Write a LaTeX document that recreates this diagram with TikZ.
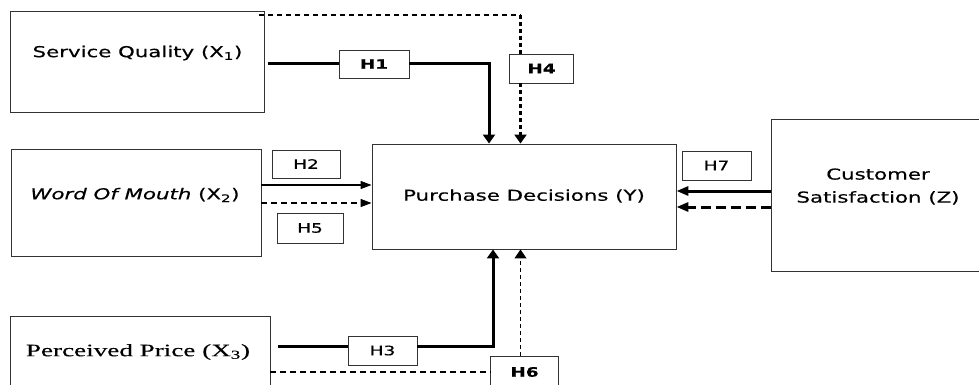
\documentclass[tikz,border=0pt]{standalone}
\usepackage{fontspec}
\usepackage{graphicx}
\usetikzlibrary{arrows.meta}
\setmainfont{DejaVu Sans}[FakeBold=0.35]
\newfontfamily\serifface{Liberation Serif}[FakeBold=0.15]
% wide lettering used in every box
\newcommand{\wsans}[1]{\scalebox{1.42}[1]{#1}}
\newcommand{\wserif}[1]{\scalebox{1.55}[1]{\serifface #1}}
\tikzset{
  varbox/.style={draw=black!80, line width=0.9pt, inner sep=0pt, fill=white},
  hbox/.style={draw=black!80, line width=0.9pt, inner sep=0pt, fill=white,
    font=\fontsize{13}{15}\selectfont},
  boxtext/.style={inner sep=0pt, font=\fontsize{15}{23}\selectfont, text=black},
  thickpath/.style={line width=3pt},
  thinpath/.style={line width=1.1pt},
  thinarrow/.style={line width=1.1pt, -{Triangle[width=8pt,length=11pt]}},
  vtip/.style={-{Triangle[width=12pt,length=9pt]}},
  htip/.style={-{Triangle[width=9pt,length=12pt]}},
}
\begin{document}
\begin{tikzpicture}[x=1pt, y=-1pt]
\useasboundingbox (0,0) rectangle (979,385);
\clip (0,0) rectangle (979,385);
\fill[white] (0,0) rectangle (979,385);

% variable boxes
\node[varbox, minimum width=254pt, minimum height=101pt] (sq) at (137,61.5) {};
\node[varbox, minimum width=250pt, minimum height=107pt] (wom) at (136,202.5) {};
\node[varbox, minimum width=260pt, minimum height=84pt] (pp) at (140,358) {};
\node[varbox, minimum width=304pt, minimum height=105pt] (pd) at (524,196.5) {};
\node[varbox, minimum width=219pt, minimum height=152pt] (cs) at (880.5,195) {};

% box captions
\node[boxtext] (sqt) at (137.5,53) {\wsans{Service Quality (X\textsubscript{1})}};
\node[boxtext] (womt) at (135,195) {\wsans{\itshape Word Of Mouth\/ \upshape(X\textsubscript{2})}};
\node[boxtext, font=\fontsize{17.5}{20}\selectfont] (ppt) at (138,352) {\wserif{Perceived Price (X\textsubscript{3})}};
\node[boxtext] (pdt) at (524,196) {\wsans{Purchase Decisions (Y)}};
\node[boxtext, align=center] (cst) at (878,186.5) {\wsans{Customer}\\\wsans{Satisfaction (Z)}};

% hypothesis labels
\node[hbox, minimum width=70pt, minimum height=28pt] (h1) at (374,64) {\wsans{\bfseries H1}};
\node[hbox, minimum width=68pt, minimum height=28pt] (h2) at (306,164) {\wsans{H2}};
\node[hbox, minimum width=69pt, minimum height=29pt] (h3) at (382.5,350.5) {\wsans{H3}};
\node[hbox, minimum width=64pt, minimum height=29pt] (h4) at (541.5,68.5) {\wsans{\bfseries H4}};
\node[hbox, minimum width=66pt, minimum height=30pt] (h5) at (310,228) {\wsans{H5}};
\node[hbox, minimum width=68pt, minimum height=32pt] (h6) at (524.5,372) {\wsans{\bfseries H6}};
\node[hbox, minimum width=69pt, minimum height=29pt] (h7) at (716.5,165.5) {\wsans{H7}};

% anchor points of the paths
\coordinate (h1in) at (268,64);
\coordinate (h1turn) at (489,64);
\coordinate (h4start) at (259,15);
\coordinate (h4turn) at (520.5,15);
\coordinate (h3in) at (278,346);
\coordinate (h3turn) at (493,346);
\coordinate (h6start) at (270,372);

% H1: service quality -> purchase decisions
\draw[thickpath] (h1in) -- (h1.west);
\draw[thickpath, vtip] (h1.east |- h1turn) -- (h1turn) -- (h1turn |- pd.north);

% H4: dashed route over the top
\draw[thinpath, dash pattern=on 5pt off 4pt] (h4start) -- (h4turn);
\draw[line width=2.4pt, dash pattern=on 4pt off 3pt] (h4turn) -- (h4turn |- h4.north);
\draw[line width=2.4pt, dash pattern=on 4pt off 3pt, vtip] (h4turn |- h4.south) -- (h4turn |- pd.north);

% H2 and H5: word of mouth -> purchase decisions
\draw[thinarrow] (wom.east |- 0,185) -- (pd.west |- 0,185);
\draw[thinarrow, dash pattern=on 6pt off 4pt] (wom.east |- 0,203) -- (pd.west |- 0,203);

% H3: perceived price -> purchase decisions
\draw[thickpath] (h3in) -- (h3.west |- h3in);
\draw[thickpath, vtip] (h3.east |- h3turn) -- (h3turn) -- (h3turn |- pd.south);

% H6: dashed route along the bottom
\draw[thinpath, dash pattern=on 6pt off 4pt] (h6start) -- (h6.west |- h6start);
\draw[thinpath, dash pattern=on 4pt off 3pt, vtip] (h6.north -| 520.5,0) -- (pd.south -| 520.5,0);

% H7: customer satisfaction -> purchase decisions
\draw[thickpath, htip] (cs.west |- 0,191) -- (pd.east |- 0,191);
\draw[thickpath, htip, dash pattern=on 10pt off 5pt] (cs.west |- 0,207) -- (pd.east |- 0,207);
\end{tikzpicture}
\end{document}
